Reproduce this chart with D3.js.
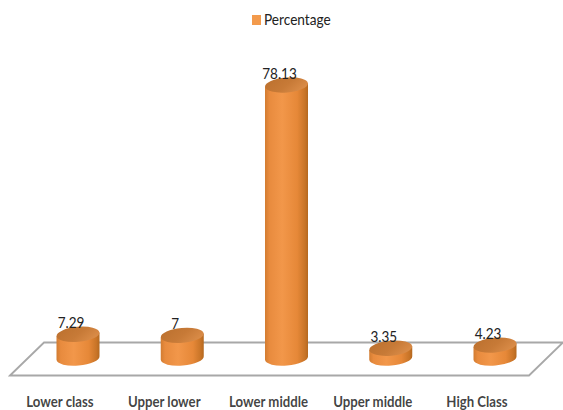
<!DOCTYPE html>
<html>
<head>
<meta charset="utf-8">
<script src="https://cdn.jsdelivr.net/npm/d3@7"></script>
<style>
  html, body { margin: 0; padding: 0; background: #fff; }
  text { font-family: Lato, sans-serif; fill: #222; }
</style>
</head>
<body>
<div class="graph"></div>
<script>
//chart data
const categories = ["Lower class", "Upper lower", "Lower middle", "Upper middle", "High Class"];
const percentages = [7.29, 7, 78.13, 3.35, 4.23];
const valueLabels = ["7.29", "7", "78.13", "3.35", "4.23"];
const seriesName = "Percentage";

//define dimensions
const SIZE = {X: 563, Y: 410};
const FLOOR = {BACK: 342.5, FRONT: 375.5, LEFT: 10, RIGHT: 529, SKEW: 34};
const BAR = {RX: 21.5, RY: 7.5, ZERO: 360, FOOT: 358, TOP: 85, TILT: 5};
const TILT_DY = BAR.RX * Math.sin(BAR.TILT * Math.PI / 180);

const svg = d3.select(".graph").append("svg")
    .attr("width", SIZE.X)
    .attr("height", SIZE.Y)
    .style("display", "block");

//define scales
const x = d3.scalePoint()
    .domain(categories)
    .range([78, 495]);

const y = d3.scaleLinear()
    .domain([0, 78.13])
    .range([BAR.ZERO, BAR.TOP]);

//squeeze a label horizontally to a narrower, Calibri-like width
function narrow(selection, factor) {
    selection.each(function() {
        d3.select(this)
            .attr("textLength", this.getComputedTextLength() * factor)
            .attr("lengthAdjust", "spacingAndGlyphs");
    });
}

//cylinder shading, darker towards both edges
const defs = svg.append("defs");

const side = defs.append("linearGradient").attr("id", "side");
[[0, "#d27c31"], [0.1, "#e88b3e"], [0.4, "#f2974a"], [0.75, "#e68838"], [0.93, "#c87427"], [1, "#b4681f"]].forEach(([o, c]) => {
    side.append("stop").attr("offset", o).attr("stop-color", c);
});

const cap = defs.append("linearGradient").attr("id", "cap")
    .attr("x1", 0).attr("y1", 0).attr("x2", 1).attr("y2", 0.5);
[[0, "#bb702e"], [0.6, "#c77a37"], [1, "#d88a46"]].forEach(([o, c]) => {
    cap.append("stop").attr("offset", o).attr("stop-color", c);
});

//floor parallelogram
const floorLine = d3.line();
svg.append("path")
    .attr("d", floorLine([
        [FLOOR.LEFT, FLOOR.FRONT],
        [FLOOR.LEFT + FLOOR.SKEW, FLOOR.BACK],
        [FLOOR.RIGHT + FLOOR.SKEW, FLOOR.BACK],
        [FLOOR.RIGHT, FLOOR.FRONT]
    ]) + "Z")
    .attr("fill", "none")
    .attr("stroke", "#a8a8a8")
    .attr("stroke-width", 1.8);

//cylinders, tilted slightly up to the right
const bars = svg.selectAll(".bar")
    .data(percentages)
    .join("g")
    .attr("class", "bar")
    .attr("transform", (d, i) => `translate(${x(categories[i])},0)`);

bars.append("path")
    .attr("fill", "url(#side)")
    .attr("d", d => `M${-BAR.RX},${y(d) + TILT_DY}
        L${-BAR.RX},${BAR.FOOT + TILT_DY}
        A${BAR.RX},${BAR.RY} ${-BAR.TILT} 0 0 ${BAR.RX},${BAR.FOOT - TILT_DY}
        L${BAR.RX},${y(d) - TILT_DY}Z`);

bars.append("ellipse")
    .attr("transform", d => `translate(0,${y(d)}) rotate(${-BAR.TILT})`)
    .attr("rx", BAR.RX)
    .attr("ry", BAR.RY)
    .attr("fill", "url(#cap)");

//value labels
bars.append("text")
    .attr("x", -7)
    .attr("y", d => y(d) - 6.5)
    .attr("text-anchor", "middle")
    .attr("font-size", 15)
    .text((d, i) => valueLabels[i])
    .call(narrow, 0.9);

//category labels
svg.selectAll(".cat")
    .data(categories)
    .join("text")
    .attr("class", "cat")
    .attr("x", d => x(d) - 18)
    .attr("y", 407)
    .attr("text-anchor", "middle")
    .attr("font-size", 15)
    .attr("font-weight", "bold")
    .attr("fill-opacity", 0.85)
    .text(d => d)
    .call(narrow, 0.88);

//legend
svg.append("rect")
    .attr("x", 252)
    .attr("y", 15)
    .attr("width", 9)
    .attr("height", 10)
    .attr("fill", "#f39a4c");

svg.append("text")
    .attr("x", 264)
    .attr("y", 25)
    .attr("font-size", 15)
    .text(seriesName)
    .call(narrow, 0.91);
</script>
</body>
</html>
